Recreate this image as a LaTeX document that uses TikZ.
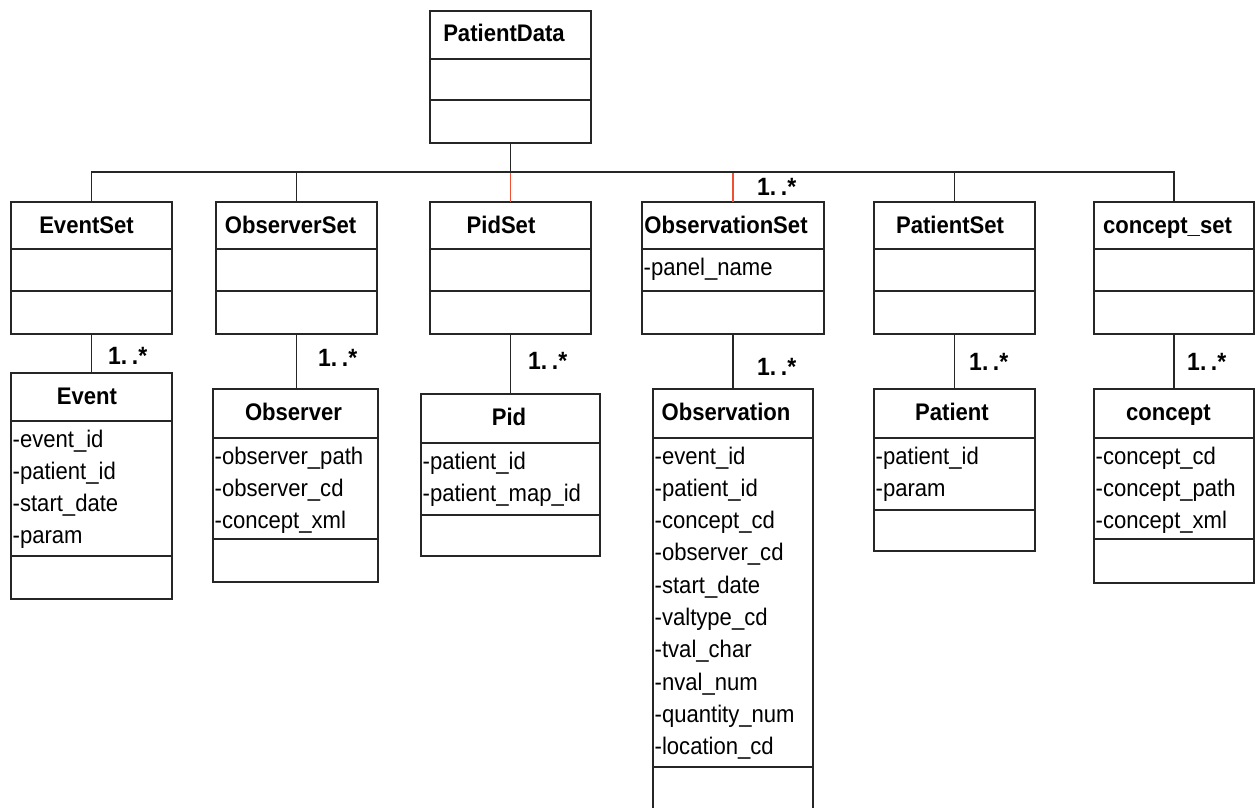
\documentclass[tikz,border=0pt]{standalone}
\usepackage{fontspec}
\setmainfont{Liberation Sans}[FakeStretch=0.92]
\definecolor{relred}{RGB}{240,80,50}
\tikzset{
  boxline/.style={draw=black!85, line width=1.3pt},
  classbox/.style={boxline, rectangle, inner sep=0pt, outer sep=0pt, anchor=north west},
  ttl/.style={font=\fontsize{24}{28}\selectfont\bfseries, anchor=base, inner sep=0pt},
  attr/.style={font=\fontsize{24}{28}\selectfont, anchor=base west, inner sep=0pt},
  conn/.style={draw=black!85, line width=1.1pt},
  redconn/.style={draw=relred, line width=1.4pt},
  mult/.style={font=\fontsize{25}{28}\selectfont\bfseries, anchor=base west, inner sep=0pt},
}
\newcommand\umlclass[9]{%
  \node[classbox, minimum width={(#3-#2)*1pt}, minimum height={(#7-#4)*1pt}] (#1) at (#2,#4) {};
  \draw[boxline] (#2,#5) -- (#3,#5);
  \draw[boxline] (#2,#6) -- (#3,#6);
  \node[ttl] (#1-title) at (#8,#4+31) {#9};
}
\newcommand\umlattrs[4]{%
  \foreach \a [count=\i from 0] in {#4} {
    \node[attr] (#1-a\i) at (#2+1.5,#3+26+32.3*\i) {\a};
  }
}
\newcommand\multlabel{1.\kern4.5pt.*}
\begin{document}
\begin{tikzpicture}[x=1pt,y=-1pt]
\useasboundingbox (0,0) rectangle (1255,808);
\fill[white] (0,0) rectangle (1255,808);
\clip (0,0) rectangle (1255,808);

% top class
\umlclass{patientdata}{430}{591}{11}{59}{100}{143}{504}{PatientData}

% set classes
\umlclass{eventset}{11}{172}{202}{249}{291}{334}{86.5}{EventSet}
\umlclass{observerset}{216}{377}{202}{249}{291}{334}{290.5}{ObserverSet}
\umlclass{pidset}{430}{591}{202}{249}{291}{334}{501}{PidSet}
\umlclass{observationset}{642}{824}{202}{249}{291}{334}{726}{ObservationSet}
\umlclass{patientset}{874}{1035}{202}{249}{291}{334}{950}{PatientSet}
\umlclass{conceptset}{1094}{1254}{202}{249}{291}{334}{1167.5}{concept\_set}
\umlattrs{observationset}{642}{249}{-panel\_name}

% element classes
\umlclass{event}{11}{172}{373}{421}{556}{599}{87}{Event}
\umlattrs{event}{11}{421}{-event\_id,-patient\_id,-start\_date,-param}

\umlclass{observer}{213}{378}{389}{438}{539}{582}{293.5}{Observer}
\umlattrs{observer}{213}{438}{-observer\_path,-observer\_cd,-concept\_xml}

\umlclass{pid}{421}{600}{394}{443}{515}{556}{509}{Pid}
\umlattrs{pid}{421}{443}{-patient\_id,-patient\_map\_id}

\umlclass{observation}{653}{813}{389}{438}{767}{830}{726}{Observation}
\umlattrs{observation}{653}{438}{-event\_id,-patient\_id,-concept\_cd,-observer\_cd,-start\_date,-valtype\_cd,-tval\_char,-nval\_num,-quantity\_num,-location\_cd}

\umlclass{patient}{874}{1035}{389}{438}{510}{551}{952}{Patient}
\umlattrs{patient}{874}{438}{-patient\_id,-param}

\umlclass{concept}{1094}{1254}{389}{438}{539}{583}{1168.5}{concept}
\umlattrs{concept}{1094}{438}{-concept\_cd,-concept\_path,-concept\_xml}

% bus
\coordinate (bus) at (patientdata.south |- 0,172);
\draw[conn] (patientdata.south) -- (bus);
\draw[conn] (eventset.north) |- (bus) -| (conceptset.north);
\draw[conn] (observerset.north) -- (observerset.north |- bus);
\draw[redconn] (pidset.north) -- ([yshift=-0.7pt]pidset.north |- bus);
\draw[redconn] (observationset.north) -- ([yshift=-0.7pt]observationset.north |- bus);
\draw[conn] (patientset.north) -- (patientset.north |- bus);

% set to element connectors
\draw[conn] (eventset.south) -- (eventset.south |- event.north);
\draw[conn] (observerset.south) -- (observerset.south |- observer.north);
\draw[conn] (pidset.south) -- (pidset.south |- pid.north);
\draw[conn] (observationset.south) -- (observationset.south |- observation.north);
\draw[conn] (patientset.south) -- (patientset.south |- patient.north);
\draw[conn] (conceptset.south) -- (conceptset.south |- concept.north);

% multiplicities
\node[mult] (m-top) at (757,195) {\multlabel};
\node[mult] (m-event) at (108,364) {\multlabel};
\node[mult] (m-observer) at (318,366) {\multlabel};
\node[mult] (m-pid) at (528,369) {\multlabel};
\node[mult] (m-observation) at (757,375) {\multlabel};
\node[mult] (m-patient) at (969,370) {\multlabel};
\node[mult] (m-concept) at (1187,370) {\multlabel};
\end{tikzpicture}
\end{document}
